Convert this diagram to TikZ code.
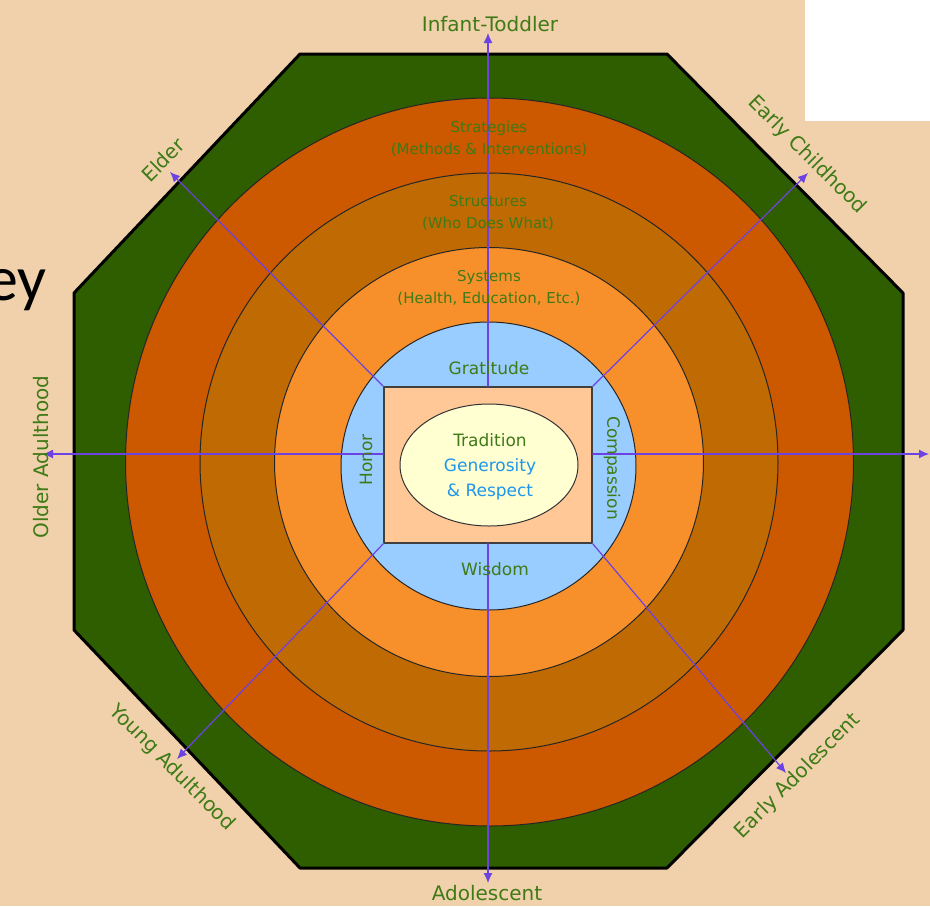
\documentclass[tikz,border=0pt]{standalone}
\usepackage{fontspec}
\setmainfont{DejaVu Sans}
\newfontfamily\slidefont{Carlito}
\usetikzlibrary{arrows.meta}
\usetikzlibrary{shapes.geometric}
\definecolor{peach}{RGB}{240,209,171}
\definecolor{darkgreen}{RGB}{46,94,0}
\definecolor{rust}{RGB}{204,88,0}
\definecolor{amber}{RGB}{192,106,4}
\definecolor{tangerine}{RGB}{247,144,42}
\definecolor{skyblue}{RGB}{153,204,255}
\definecolor{apricot}{RGB}{255,200,150}
\definecolor{cream}{RGB}{255,255,210}
\definecolor{leafgreen}{RGB}{62,122,22}
\definecolor{azure}{RGB}{30,150,235}
\definecolor{axisviolet}{RGB}{108,66,226}

\begin{document}
\begin{tikzpicture}[x=1pt,y=-1pt,line cap=round,line join=round,
  outerlab/.style={text=leafgreen,font=\fontsize{20}{22}\selectfont},
  ringlab/.style={text=leafgreen,font=\fontsize{15}{22}\selectfont,align=center},
  innerlab/.style={text=leafgreen,font=\fontsize{17}{19}\selectfont},
  axis/.style={draw=axisviolet,line width=1.2pt,-{Latex[length=10pt,width=9pt]}},
  ring/.style={draw=black!85,line width=1pt}]
\useasboundingbox (0,0) rectangle (930,906);
\clip (0,0) rectangle (930,906);
\fill[peach] (0,0) rectangle (930,906);
\fill[white] (805,0) rectangle (930,121);
\node[font=\slidefont\fontsize{64}{70}\selectfont,anchor=base east,inner sep=0pt] (slide) at (47,300) {ey};

% octagon
\filldraw[fill=darkgreen,draw=black,line width=3pt] (300,54) -- (667,54) -- (903,293) -- (903,630)
  -- (667,868) -- (300,868) -- (74,630) -- (74,293) -- cycle;

% rings
\filldraw[fill=rust,ring] (489.5,462) circle [radius=364pt];
\filldraw[fill=amber,ring] (489,462) circle [radius=289pt];
\filldraw[fill=tangerine,ring] (489,462) circle [radius=214.5pt];
\filldraw[fill=skyblue,ring] (488.5,466) ellipse [x radius=147.5pt,y radius=144pt];

% centre
\node[draw=black!75,line width=1.5pt,fill=apricot,minimum width=208pt,minimum height=156pt] (core) at (488,465) {};
\node[ellipse,draw=black!80,line width=1pt,fill=cream,minimum width=178pt,minimum height=122pt] (heart) at (489,465) {};
\node[align=center,text=azure,font=\fontsize{17}{25}\selectfont] (values) at (490,467)
  {\textcolor{leafgreen}{Tradition}\\Generosity\\\& Respect};

% axes
\coordinate (tipN) at (488,33);
\coordinate (tipS) at (488,883);
\coordinate (tipW) at (43,454);
\coordinate (tipE) at (929,454);
\coordinate (tipNW) at (170,172);
\coordinate (tipNE) at (808,173);
\coordinate (tipSW) at (177,759);
\coordinate (tipSE) at (786,773);
\draw[axis] (core.north) -- (tipN);
\draw[axis] (core.south) -- (tipS);
\draw[axis] (core.west |- tipW) -- (tipW);
\draw[axis] (core.east |- tipE) -- (tipE);
\draw[axis] (core.north west) -- (tipNW);
\draw[axis] (core.north east) -- (tipNE);
\draw[axis] (core.south west) -- (tipSW);
\draw[axis] (core.south east) -- (tipSE);

% ring labels
\node[ringlab] (strategies) at (489,139) {Strategies\\(Methods \& Interventions)};
\node[ringlab] (structures) at (488,213) {Structures\\(Who Does What)};
\node[ringlab] (systems) at (489,288) {Systems\\(Health, Education, Etc.)};
\node[innerlab] (gratitude) at (489,368) {Gratitude};
\node[innerlab] (wisdom) at (495,569) {Wisdom};
\node[innerlab,rotate=90] (honor) at (366,460) {Honor};
\node[innerlab,rotate=-90] (compassion) at (612,468) {Compassion};

% life stages
\node[outerlab] (infant) at (490,24) {Infant-Toddler};
\node[outerlab] (adolescent) at (487,893) {Adolescent};
\node[outerlab,rotate=90] (older) at (41,457) {Older Adulthood};
\node[outerlab,rotate=45] (elder) at (163,160) {Elder};
\node[outerlab,rotate=-45] (earlychild) at (807,155) {Early Childhood};
\node[outerlab,rotate=-45] (young) at (172,768) {Young Adulthood};
\node[outerlab,rotate=45] (earlyadol) at (798,776) {Early Adolescent};
\node[outerlab,rotate=-90,anchor=base,inner sep=0pt] (middle) at (931,457) {Middle Childhood};
\end{tikzpicture}
\end{document}
